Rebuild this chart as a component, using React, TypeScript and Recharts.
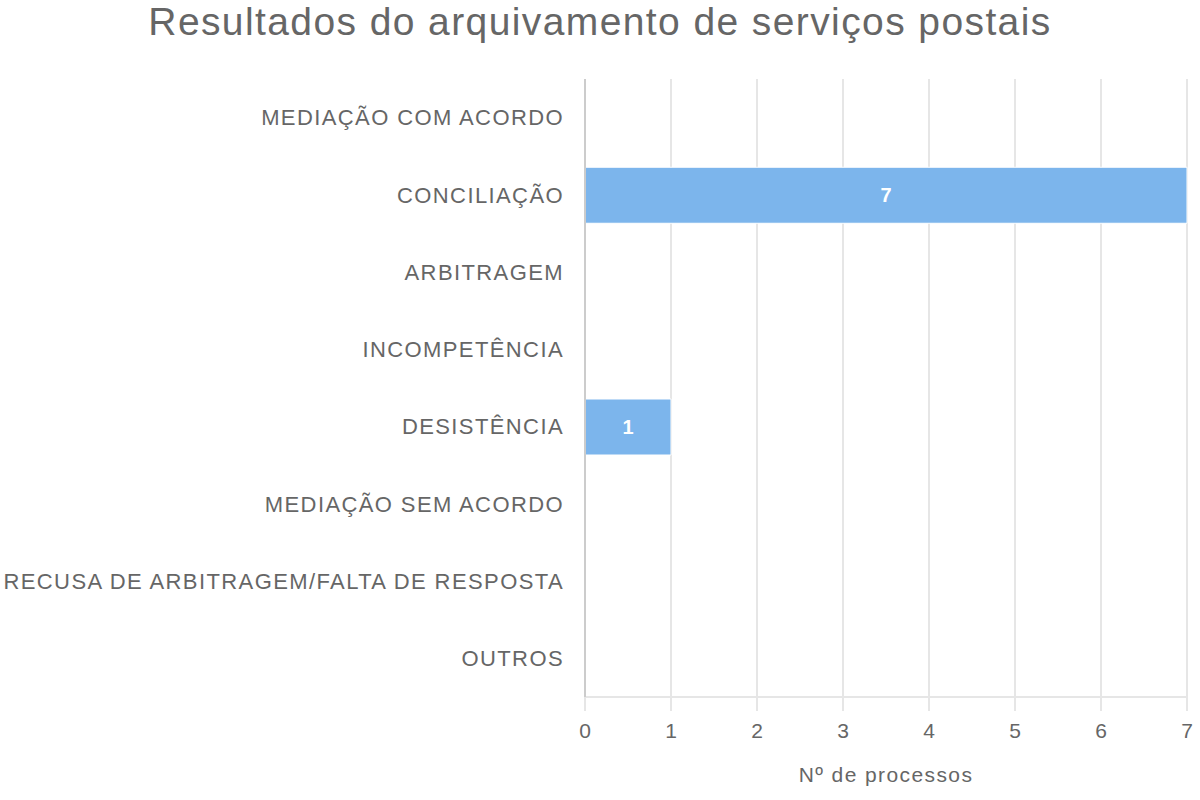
import React from 'react';
import { BarChart, Bar, XAxis, YAxis, CartesianGrid, LabelList } from 'recharts';

const categories = [
  'MEDIAÇÃO COM ACORDO',
  'CONCILIAÇÃO',
  'ARBITRAGEM',
  'INCOMPETÊNCIA',
  'DESISTÊNCIA',
  'MEDIAÇÃO SEM ACORDO',
  'RECUSA DE ARBITRAGEM/FALTA DE RESPOSTA',
  'OUTROS',
];
const processos = [0, 7, 0, 0, 1, 0, 0, 0];
const xTicks = [0, 1, 2, 3, 4, 5, 6, 7];

const FONT = '"Liberation Sans", Arial, Helvetica, sans-serif';

export default function App() {
  const data = categories.map((c, i) => ({ name: c, value: processos[i] }));

  return (
    <div style={{ position: 'absolute', left: 0, top: 0, width: 1200, height: 800, background: '#fff', fontFamily: FONT }}>
      <div
        style={{
          position: 'absolute',
          top: 0,
          left: 0,
          width: 1200,
          textAlign: 'center',
          fontSize: 39,
          lineHeight: '44px',
          letterSpacing: 1.4,
          color: '#666666',
        }}
      >
        Resultados do arquivamento de serviços postais
      </div>
      <BarChart
        width={1200}
        height={800}
        data={data}
        layout="vertical"
        margin={{ top: 79, right: 13, bottom: 0, left: 0 }}
      >
        <CartesianGrid horizontal={false} stroke="#e6e6e6" strokeWidth={2} />
        <XAxis
          type="number"
          domain={[0, 7]}
          ticks={xTicks}
          height={103}
          interval={0}
          axisLine={{ stroke: '#e6e6e6', strokeWidth: 2 }}
          tickLine={{ stroke: '#e6e6e6', strokeWidth: 2 }}
          tickSize={14}
          tickMargin={12}
          tick={{ fill: '#666666', fontSize: 21, fontFamily: FONT }}
          label={{
            value: 'Nº de processos',
            position: 'insideBottom',
            offset: 18,
            fill: '#666666',
            fontSize: 21,
            fontFamily: FONT,
            style: { letterSpacing: 1.4 },
          }}
        />
        <YAxis
          type="category"
          dataKey="name"
          width={585}
          interval={0}
          axisLine={{ stroke: '#cccccc', strokeWidth: 2 }}
          tickLine={false}
          tickSize={0}
          tickMargin={21}
          tick={{ fill: '#666666', fontSize: 22, fontFamily: FONT, style: { letterSpacing: 1.4 } }}
        />
        <Bar dataKey="value" fill="#7cb5ec" stroke="#ffffff" strokeWidth={1} barSize={56} isAnimationActive={false}>
          <LabelList
            dataKey="value"
            position="center"
            fill="#ffffff"
            style={{ fontSize: 20, fontWeight: 'bold', fontFamily: FONT }}
          />
        </Bar>
      </BarChart>
    </div>
  );
}
